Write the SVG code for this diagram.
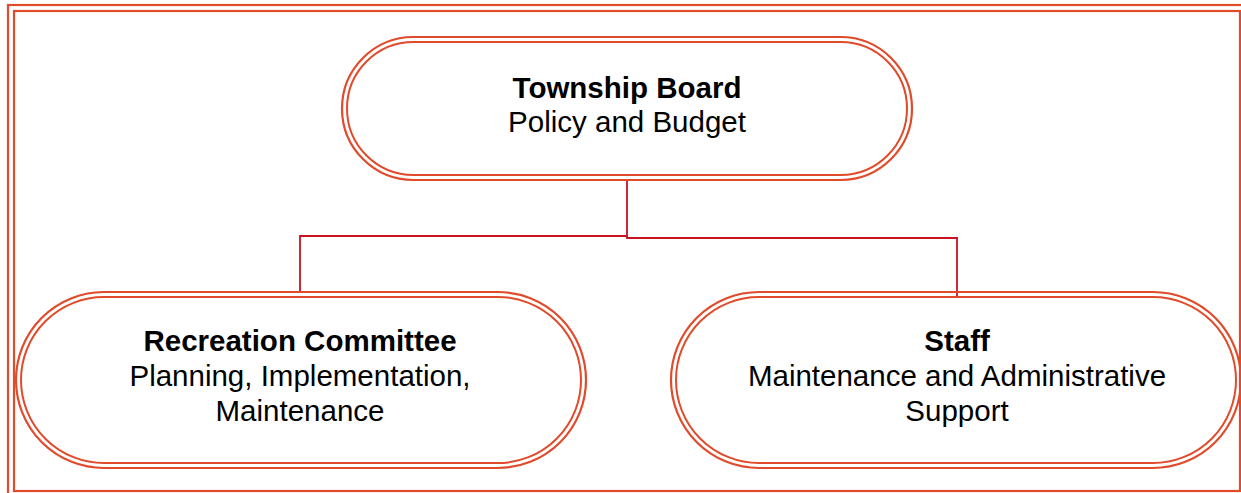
<svg xmlns="http://www.w3.org/2000/svg" width="1241" height="493" viewBox="0 0 1241 493">
<style>
.o{fill:none;stroke:#E04B2B;stroke-width:2.2}
.i{fill:none;stroke:#E04B2B;stroke-width:2}
.c{fill:none;stroke:#C8141E;stroke-width:1.8}
text{font-family:"Liberation Sans",Arial,sans-serif;font-size:29.5px;fill:#000;text-anchor:middle}
.b{font-weight:bold}
</style>
<rect width="1241" height="493" fill="#fff"/>
<g id="frame">
<rect x="8" y="5" width="1240" height="492" class="o"/>
<rect x="14" y="11" width="1226" height="480" class="o"/>
</g>
<g id="connectors">
<polyline class="c" points="627,180 627,236 300,236 300,293"/>
<polyline class="c" points="627,236 627,238 957,238 957,296"/>
</g>
<g id="township-board">
<rect x="342" y="37" width="570" height="143" rx="71.5" class="o"/>
<rect x="347" y="42" width="560" height="133" rx="66.5" class="i"/>
<text x="627" y="98" class="b">Township Board</text>
<text x="627" y="132">Policy and Budget</text>
</g>
<g id="recreation-committee">
<rect x="16" y="292" width="570" height="176" rx="88" class="o"/>
<rect x="21" y="297" width="560" height="166" rx="83" class="i"/>
<text x="300" y="351" class="b">Recreation Committee</text>
<text x="300" y="386">Planning, Implementation,</text>
<text x="300" y="421">Maintenance</text>
</g>
<g id="staff">
<rect x="671" y="292" width="570" height="176" rx="88" class="o"/>
<rect x="676" y="297" width="560" height="166" rx="83" class="i"/>
<text x="957" y="351" class="b">Staff</text>
<text x="957" y="386">Maintenance and Administrative</text>
<text x="957" y="421">Support</text>
</g>
</svg>
